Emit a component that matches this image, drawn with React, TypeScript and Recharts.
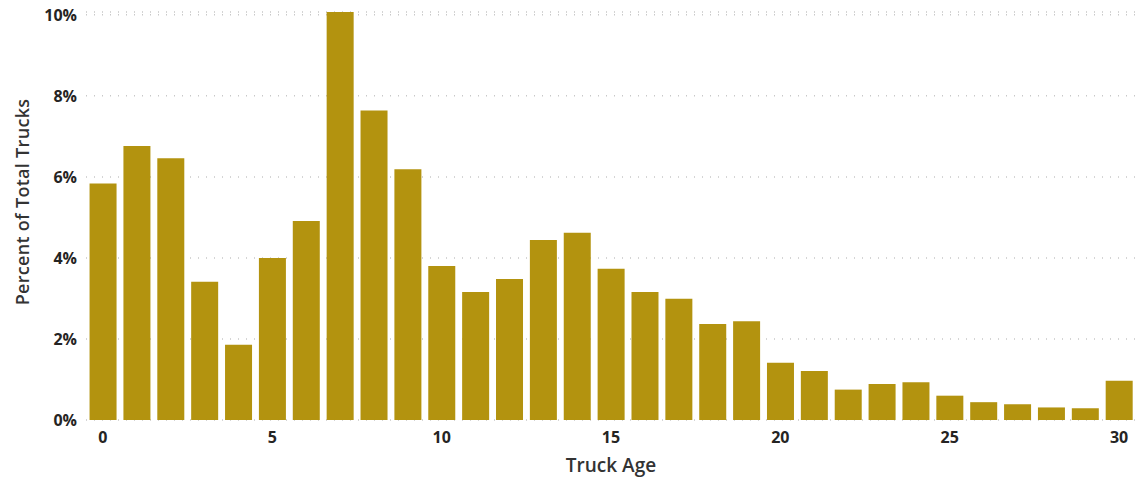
import React from "react";
import { BarChart, Bar, XAxis, YAxis, CartesianGrid } from "recharts";

const ages: number[] = [0,1,2,3,4,5,6,7,8,9,10,11,12,13,14,15,16,17,18,19,20,21,22,23,24,25,26,27,28,29,30];
const percents: number[] = [5.84,6.76,6.46,3.41,1.86,4.0,4.91,10.07,7.64,6.19,3.8,3.16,3.48,4.44,4.62,3.73,3.16,2.99,2.37,2.44,1.41,1.21,0.75,0.89,0.93,0.6,0.44,0.39,0.31,0.29,0.97];
const yTicks: number[] = [0, 2, 4, 6, 8, 10];

const data = ages.map((a, i) => ({ age: a, pct: percents[i] }));

const FONT = "'Open Sans', 'DejaVu Sans', sans-serif";
const BAR_COLOR = "#B3930F";

const YTitle = (props: any) => {
  const vb = props.viewBox || {};
  const cx = 22;
  const cy = vb.y + vb.height / 2 - 14;
  return (
    <text
      x={cx}
      y={cy}
      transform={`rotate(-90, ${cx}, ${cy})`}
      textAnchor="middle"
      dominantBaseline="central"
      fill="#333333"
      fontFamily={FONT}
      fontSize={18}
      fontWeight={600}
      letterSpacing={0.3}
    >
      Percent of Total Trucks
    </text>
  );
};

export default function App() {
  return (
    <div style={{ position: "absolute", left: 0, top: 0, background: "#fff" }}>
      <BarChart
        width={1136}
        height={480}
        data={data}
        margin={{ top: 12, right: 0, bottom: 0, left: 0 }}
        barCategoryGap="10.5%"
      >
        <CartesianGrid
          vertical={false}
          stroke="#C8C8C8"
          strokeDasharray="1 7"
          strokeWidth={1.5}
        />
        <XAxis
          dataKey="age"
          interval={4}
          axisLine={false}
          tickLine={false}
          tickSize={0}
          tickMargin={12}
          height={60}
          tick={{ fill: "#252423", fontFamily: FONT, fontSize: 16, fontWeight: 700 }}
          label={{
            value: "Truck Age",
            position: "insideBottom",
            offset: 8,
            fill: "#333333",
            fontFamily: FONT,
            fontSize: 19,
            fontWeight: 600,
          }}
        />
        <YAxis
          width={86}
          domain={[0, "dataMax"]}
          ticks={yTicks}
          axisLine={false}
          tickLine={false}
          tickSize={0}
          tickMargin={9}
          tickFormatter={(v: number) => `${v}%`}
          tick={{ fill: "#252423", fontFamily: FONT, fontSize: 16, fontWeight: 700 }}
          label={<YTitle />}
        />
        <Bar dataKey="pct" fill={BAR_COLOR} isAnimationActive={false} />
      </BarChart>
    </div>
  );
}
